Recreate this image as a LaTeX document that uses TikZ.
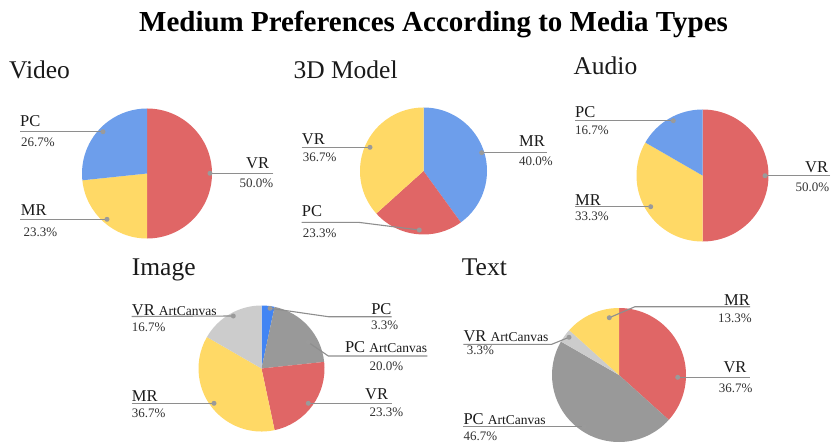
\documentclass[tikz,border=0pt]{standalone}
\usepackage{fontspec}
\setmainfont{Liberation Serif}
\definecolor{cred}{HTML}{E06666}
\definecolor{cblue}{HTML}{6D9EEB}
\definecolor{cbright}{HTML}{4285F4}
\definecolor{cyellow}{HTML}{FFD966}
\definecolor{cgray}{HTML}{999999}
\definecolor{clight}{HTML}{CCCCCC}
\definecolor{linec}{HTML}{8E8E8E}
\definecolor{dotc}{HTML}{9A9A9A}
\definecolor{txt}{HTML}{1A1A1A}
\definecolor{pctc}{HTML}{333333}
\newcommand\myslice[5]{%
  \pgfmathsetmacro\mySA{360*#3-90}%
  \pgfmathsetmacro\myEA{360*#4-90}%
  \fill[#5] (#1) -- ++(\mySA:#2) arc[start angle=\mySA, end angle=\myEA, radius=#2] -- cycle;}
\newcommand\smallac{\fontsize{13.5}{15}\selectfont}
\tikzset{
  leader/.style={draw=linec, line width=1.1pt},
  dotm/.style={fill=dotc},
  nm/.style={inner sep=0pt, text=txt, font=\fontsize{16.5}{18}\selectfont},
  pct/.style={inner sep=0pt, text=pctc, font=\fontsize{13}{15}\selectfont},
  sec/.style={inner sep=0pt, text=txt, anchor=base west, font=\fontsize{25.5}{28}\selectfont},
}
\begin{document}
\begin{tikzpicture}[x=1pt,y=-1pt]
\useasboundingbox (0,0) rectangle (831,444);
\fill[white] (0,0) rectangle (831,444);

\node[inner sep=0pt, anchor=base, text=black, font=\bfseries\fontsize{29}{32}\selectfont] (title) at (433.5,32) {Medium Preferences According to Media Types};

% ---------------- Video
\coordinate (vidC) at (147,173.5);
\myslice{vidC}{65}{0}{0.5}{cred}
\myslice{vidC}{65}{0.5}{0.7333}{cyellow}
\myslice{vidC}{65}{0.7333}{1}{cblue}
\node[sec] (vidT) at (9,78.3) {Video};
\node[nm, anchor=base west] (vidPC) at (20,126) {PC};
\node[pct, anchor=base west] (vidPCp) at (21,146.5) {26.7\%};
\coordinate (vidPCl) at (20,131.7); \coordinate (vidPCd) at (103,131.7);
\node[nm, anchor=base west] (vidMR) at (20.7,215.8) {MR};
\node[pct, anchor=base west] (vidMRp) at (23.3,236.5) {23.3\%};
\coordinate (vidMRl) at (20,219.3); \coordinate (vidMRd) at (107,219.3);
\node[nm, anchor=base east] (vidVR) at (269.3,168.7) {VR};
\node[pct, anchor=base east] (vidVRp) at (273.3,187.7) {50.0\%};
\coordinate (vidVRl) at (273.3,173.3); \coordinate (vidVRd) at (210,173.3);
\draw[leader] (vidPCl) -- (vidPCd);
\draw[leader] (vidMRl) -- (vidMRd);
\draw[leader] (vidVRl) -- (vidVRd);
\foreach \d in {vidPCd,vidMRd,vidVRd} \fill[dotm] (\d) circle[radius=2.5];

% ---------------- 3D Model
\coordinate (mdlC) at (423.5,171);
\myslice{mdlC}{63.5}{0}{0.4}{cblue}
\myslice{mdlC}{63.5}{0.4}{0.6333}{cred}
\myslice{mdlC}{63.5}{0.6333}{1}{cyellow}
\node[sec] (mdlT) at (293.3,78.3) {3D Model};
\node[nm, anchor=base west] (mdlVR) at (301.7,144.7) {VR};
\node[pct, anchor=base west] (mdlVRp) at (302.7,161) {36.7\%};
\coordinate (mdlVRl) at (301.7,147.3); \coordinate (mdlVRd) at (370,147.3);
\node[nm, anchor=base west] (mdlPC) at (301.7,216.2) {PC};
\node[pct, anchor=base west] (mdlPCp) at (302.7,237) {23.3\%};
\coordinate (mdlPCl) at (301.7,222.3); \coordinate (mdlPCb) at (358.3,222.3); \coordinate (mdlPCd) at (419.3,230);
\node[nm, anchor=base east] (mdlMR) at (545,146.3) {MR};
\node[pct, anchor=base east] (mdlMRp) at (553,165) {40.0\%};
\coordinate (mdlMRl) at (546.7,152.7); \coordinate (mdlMRd) at (481.7,152.7);
\draw[leader] (mdlVRl) -- (mdlVRd);
\draw[leader] (mdlPCl) -- (mdlPCb) -- (mdlPCd);
\draw[leader] (mdlMRl) -- (mdlMRd);
\foreach \d in {mdlVRd,mdlPCd,mdlMRd} \fill[dotm] (\d) circle[radius=2.5];

% ---------------- Audio
\coordinate (audC) at (702.5,175.5);
\myslice{audC}{66}{0}{0.5}{cred}
\myslice{audC}{66}{0.5}{0.8333}{cyellow}
\myslice{audC}{66}{0.8333}{1}{cblue}
\node[sec] (audT) at (573.3,75) {Audio};
\node[nm, anchor=base west] (audPC) at (575,117.2) {PC};
\node[pct, anchor=base west] (audPCp) at (575,135) {16.7\%};
\coordinate (audPCl) at (575,120.7); \coordinate (audPCd) at (673.3,120.7);
\node[nm, anchor=base west] (audMR) at (575,205.2) {MR};
\node[pct, anchor=base west] (audMRp) at (575,220) {33.3\%};
\coordinate (audMRl) at (575,206.7); \coordinate (audMRd) at (650.7,206.7);
\node[nm, anchor=base east] (audVR) at (828.3,172.8) {VR};
\node[pct, anchor=base east] (audVRp) at (829.3,191) {50.0\%};
\coordinate (audVRl) at (830,175.7); \coordinate (audVRd) at (765,175.7);
\draw[leader] (audPCl) -- (audPCd);
\draw[leader] (audMRl) -- (audMRd);
\draw[leader] (audVRl) -- (audVRd);
\foreach \d in {audPCd,audMRd,audVRd} \fill[dotm] (\d) circle[radius=2.5];

% ---------------- Image
\coordinate (imgC) at (261.5,368.5);
\myslice{imgC}{63}{0}{0.0333}{cbright}
\myslice{imgC}{63}{0.0333}{0.2333}{cgray}
\myslice{imgC}{63}{0.2333}{0.4667}{cred}
\myslice{imgC}{63}{0.4667}{0.8333}{cyellow}
\myslice{imgC}{63}{0.8333}{1}{clight}
\node[sec] (imgT) at (131.7,275) {Image};
\node[nm, anchor=base west] (imgVA) at (131.7,315) {VR \smallac ArtCanvas};
\node[pct, anchor=base west] (imgVAp) at (131.7,331) {16.7\%};
\coordinate (imgVAl) at (131.7,316.5); \coordinate (imgVAd) at (233.3,316);
\node[nm, anchor=base west] (imgMR) at (131.7,401.2) {MR};
\node[pct, anchor=base west] (imgMRp) at (131.7,417.2) {36.7\%};
\coordinate (imgMRl) at (131.7,403.3); \coordinate (imgMRd) at (214,403.3);
\node[nm, anchor=base east] (imgPC) at (391.7,314.5) {PC};
\node[pct, anchor=base east] (imgPCp) at (398.3,329.5) {3.3\%};
\coordinate (imgPCd) at (270,308.3); \coordinate (imgPCb) at (328.3,316.7); \coordinate (imgPCl) at (391.7,316.7);
\node[nm, anchor=base east] (imgPA) at (427.3,352.5) {PC \smallac ArtCanvas};
\node[pct, anchor=base east] (imgPAp) at (403.3,370) {20.0\%};
\coordinate (imgPAd) at (308.3,342.3); \coordinate (imgPAb) at (328.3,356); \coordinate (imgPAl) at (427.3,356);
\node[nm, anchor=base east] (imgVR) at (388.3,399.5) {VR};
\node[pct, anchor=base east] (imgVRp) at (403.3,416.5) {23.3\%};
\coordinate (imgVRd) at (308.3,403.3); \coordinate (imgVRl) at (391.7,403.3);
\draw[leader] (imgVAl) -- (imgVAd);
\draw[leader] (imgMRl) -- (imgMRd);
\draw[leader] (imgPCd) -- (imgPCb) -- (imgPCl);
\draw[leader] (imgPAd) -- (imgPAb) -- (imgPAl);
\draw[leader] (imgVRd) -- (imgVRl);
\foreach \d in {imgVAd,imgMRd,imgPCd,imgPAd,imgVRd} \fill[dotm] (\d) circle[radius=2.5];

% ---------------- Text
\coordinate (txtC) at (619,375);
\myslice{txtC}{67}{0}{0.3667}{cred}
\myslice{txtC}{67}{0.3667}{0.8333}{cgray}
\myslice{txtC}{67}{0.8333}{0.8667}{clight}
\myslice{txtC}{67}{0.8667}{1}{cyellow}
\node[sec] (txtT) at (461.7,275) {Text};
\node[nm, anchor=base west] (txtVA) at (463.3,341.2) {VR \smallac ArtCanvas};
\node[pct, anchor=base west] (txtVAp) at (466.7,354.5) {3.3\%};
\coordinate (txtVAl) at (463.3,344.3); \coordinate (txtVAb) at (551.7,344.3); \coordinate (txtVAd) at (569,337.3);
\node[nm, anchor=base west] (txtPA) at (463.3,424.5) {PC \smallac ArtCanvas};
\node[pct, anchor=base west] (txtPAp) at (463.3,440.2) {46.7\%};
\coordinate (txtPAl) at (463.3,426.7); \coordinate (txtPAd) at (584.3,426.7);
\node[nm, anchor=base east] (txtMR) at (750,305.5) {MR};
\node[pct, anchor=base east] (txtMRp) at (752,322.5) {13.3\%};
\coordinate (txtMRd) at (609.3,317.7); \coordinate (txtMRb) at (635,306.7); \coordinate (txtMRl) at (750,306.7);
\node[nm, anchor=base east] (txtVR) at (746.7,372.2) {VR};
\node[pct, anchor=base east] (txtVRp) at (752.7,392.5) {36.7\%};
\coordinate (txtVRd) at (677.7,377.3); \coordinate (txtVRl) at (750,377.3);
\draw[leader] (txtVAl) -- (txtVAb) -- (txtVAd);
\draw[leader] (txtPAl) -- (txtPAd);
\draw[leader] (txtMRd) -- (txtMRb) -- (txtMRl);
\draw[leader] (txtVRd) -- (txtVRl);
\foreach \d in {txtVAd,txtPAd,txtMRd,txtVRd} \fill[dotm] (\d) circle[radius=2.5];
\end{tikzpicture}
\end{document}
